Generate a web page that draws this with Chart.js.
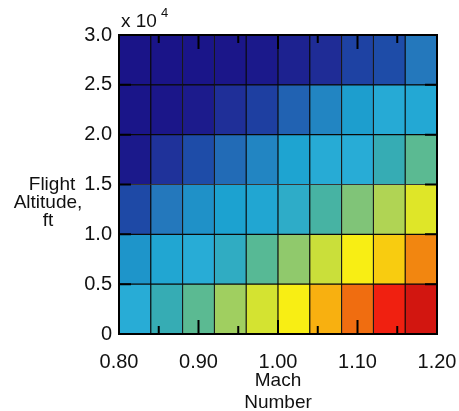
<!DOCTYPE html>
<html lang="en">
<head>
    <meta charset="UTF-8">
    <title>Flight Altitude vs Mach Number</title>
    <script src="https://cdn.jsdelivr.net/npm/chart.js"></script>
    <style>
        body {
            margin: 0;
            background-color: #fff;
        }
        canvas {
            display: block;
        }
    </style>
</head>
<body>
    <canvas id="myChart" width="459" height="411"></canvas>

    <script>
        // Mach bins (cell centres) and altitude bin edges, ft
        const machCenters = [0.82, 0.86, 0.90, 0.94, 0.98, 1.02, 1.06, 1.10, 1.14, 1.18];
        const altitudeEdges = [0, 5000, 10000, 15000, 20000, 25000, 30000];

        // Cell level (0..1) per altitude row, bottom row first
        const levels = [
            [0.45, 0.50, 0.56, 0.64, 0.715, 0.765, 0.83, 0.89, 0.94, 0.99],
            [0.37, 0.42, 0.45, 0.48, 0.555, 0.62, 0.70, 0.765, 0.81, 0.87],
            [0.19, 0.30, 0.36, 0.40, 0.42, 0.47, 0.53, 0.60, 0.66, 0.73],
            [0.02, 0.12, 0.20, 0.27, 0.33, 0.41, 0.445, 0.45, 0.50, 0.56],
            [0.005, 0.01, 0.03, 0.11, 0.16, 0.25, 0.33, 0.39, 0.44, 0.43],
            [0.00, 0.00, 0.005, 0.01, 0.02, 0.06, 0.10, 0.17, 0.20, 0.30]
        ];

        // Tick positions
        const xTickValues = [0.80, 0.85, 0.90, 0.95, 1.00, 1.05, 1.10, 1.15, 1.20];
        const yTickValues = [0, 5000, 10000, 15000, 20000, 25000, 30000];

        // Colour map stops
        const cmapStops = [
            [0.00, '#1a1488'], [0.10, '#1f2c96'], [0.20, '#1e4ca8'], [0.30, '#2478bc'],
            [0.40, '#1ca2d0'], [0.45, '#28acd6'], [0.50, '#36acb4'], [0.55, '#52b898'],
            [0.60, '#80c478'], [0.66, '#b0d454'], [0.71, '#d0e234'], [0.765, '#f8ee14'],
            [0.81, '#f8cc10'], [0.83, '#f8b010'], [0.88, '#f07c10'], [0.94, '#f02010'],
            [1.00, '#cc1410']
        ];

        function hexToRgb(h) {
            return [parseInt(h.slice(1, 3), 16), parseInt(h.slice(3, 5), 16), parseInt(h.slice(5, 7), 16)];
        }

        function colorFor(t) {
            for (let i = 1; i < cmapStops.length; i++) {
                const [t0, c0] = cmapStops[i - 1];
                const [t1, c1] = cmapStops[i];
                if (t <= t1) {
                    const f = (t - t0) / (t1 - t0);
                    const a = hexToRgb(c0), b = hexToRgb(c1);
                    const rgb = a.map((v, k) => Math.round(v + (b[k] - v) * f));
                    return `rgb(${rgb.join(',')})`;
                }
            }
            return cmapStops[cmapStops.length - 1][1];
        }

        const datasets = levels.map((row, r) => ({
            data: machCenters.map(m => ({ x: m, y: [altitudeEdges[r], altitudeEdges[r + 1]] })),
            backgroundColor: row.map(colorFor),
            borderColor: '#0a0a0a',
            borderWidth: 0.9,
            borderSkipped: false,
            grouped: false,
            barPercentage: 1,
            categoryPercentage: 1
        }));

        // Box, inward tick marks and side labels
        const framePlugin = {
            id: 'frame',
            afterDatasetsDraw(chart) {
                const { ctx, chartArea: a, scales: { x, y } } = chart;
                ctx.save();
                ctx.strokeStyle = '#000';
                ctx.lineWidth = 2;
                xTickValues.forEach(v => {
                    const px = x.getPixelForValue(v);
                    const major = Math.round(v * 100) % 10 === 0;
                    const len = major ? 14 : 8;
                    ctx.beginPath();
                    ctx.moveTo(px, a.bottom); ctx.lineTo(px, a.bottom - len);
                    ctx.moveTo(px, a.top); ctx.lineTo(px, a.top + len);
                    ctx.stroke();
                });
                yTickValues.forEach(v => {
                    const py = y.getPixelForValue(v);
                    ctx.beginPath();
                    ctx.moveTo(a.left, py); ctx.lineTo(a.left + 12, py);
                    ctx.moveTo(a.right, py); ctx.lineTo(a.right - 12, py);
                    ctx.stroke();
                });
                ctx.strokeRect(a.left, a.top, a.right - a.left, a.bottom - a.top);

                ctx.fillStyle = '#111';
                ctx.textAlign = 'center';
                ctx.textBaseline = 'alphabetic';
                ctx.font = '19px "Liberation Sans", Arial, sans-serif';
                ctx.fillText('Flight', 52, 190);
                ctx.fillText('Altitude,', 48, 208);
                ctx.fillText('ft', 48, 226);

                ctx.textAlign = 'left';
                ctx.font = '19px "Liberation Sans", Arial, sans-serif';
                ctx.fillText('x 10', 121, 27);
                ctx.font = '13px "Liberation Sans", Arial, sans-serif';
                ctx.fillText('4', 161, 17);
                ctx.restore();
            }
        };

        const tickFont = { family: '"Liberation Sans", Arial, sans-serif', size: 20 };

        new Chart(document.getElementById('myChart').getContext('2d'), {
            type: 'bar',
            data: { datasets: datasets },
            options: {
                responsive: false,
                animation: false,
                layout: { padding: { top: 35, right: 22, bottom: 0, left: 0 } },
                plugins: {
                    legend: { display: false },
                    tooltip: { enabled: false }
                },
                scales: {
                    x: {
                        type: 'linear',
                        offset: false,
                        min: 0.8,
                        max: 1.2,
                        grid: { display: false, drawTicks: false },
                        border: { display: false },
                        ticks: {
                            stepSize: 0.05,
                            autoSkip: false,
                            maxRotation: 0,
                            minRotation: 0,
                            padding: 16,
                            color: '#111',
                            font: tickFont,
                            callback: v => {
                                const k = Math.round(v * 100);
                                return k % 10 === 0 ? (k / 100).toFixed(2) : '';
                            }
                        },
                        title: {
                            display: true,
                            text: ['Mach', 'Number'],
                            color: '#111',
                            font: { family: '"Liberation Sans", Arial, sans-serif', size: 19, lineHeight: 1.15 },
                            padding: { top: 0, bottom: -3 }
                        },
                        afterFit: s => {
                            s.height = 77;
                            s.paddingLeft = 0;
                            s.paddingRight = 0;
                        }
                    },
                    y: {
                        min: 0,
                        max: 30000,
                        grid: { display: false, drawTicks: false },
                        border: { display: false },
                        ticks: {
                            stepSize: 5000,
                            padding: 7,
                            color: '#111',
                            font: tickFont,
                            callback: v => v === 0 ? '0' : (v / 10000).toFixed(1)
                        },
                        afterFit: s => {
                            s.width = 119;
                            s.paddingTop = 0;
                            s.paddingBottom = 0;
                        }
                    }
                }
            },
            plugins: [framePlugin]
        });
    </script>
</body>
</html>
